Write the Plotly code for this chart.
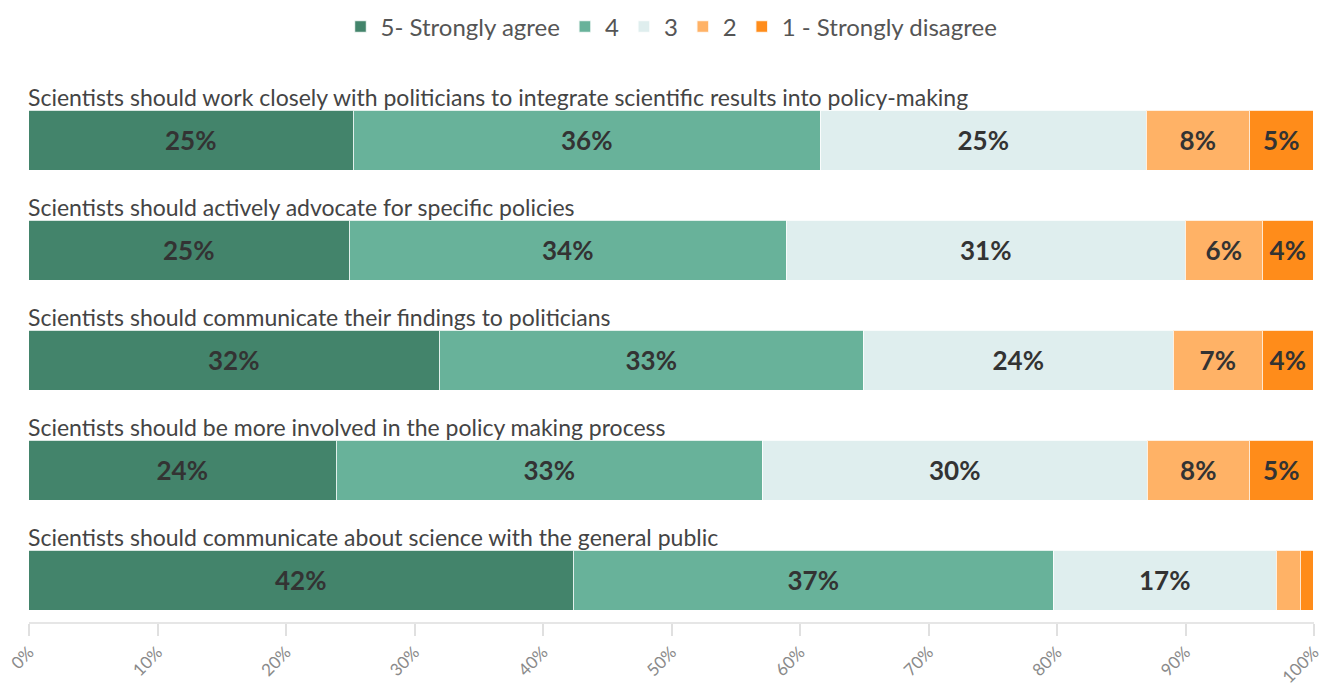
import plotly.graph_objects as go

statements = [
    "Scientists should work closely with politicians to integrate scientific results into policy-making",
    "Scientists should actively advocate for specific policies",
    "Scientists should communicate their findings to politicians",
    "Scientists should be more involved in the policy making process",
    "Scientists should communicate about science with the general public",
]
series_names = ["5- Strongly agree", "4", "3", "2", "1 - Strongly disagree"]
s5 = [25.3, 25.0, 32.0, 24.0, 42.4]
s4 = [36.3, 34.0, 33.0, 33.1, 37.4]
s3 = [25.4, 31.0, 24.1, 30.0, 17.3]
s2 = [8.0, 6.0, 6.9, 7.9, 1.9]
s1 = [5.0, 4.0, 4.0, 5.0, 1.0]
tick_vals = [0, 10, 20, 30, 40, 50, 60, 70, 80, 90, 100]
tick_text = [f"{v}%" for v in tick_vals]

colors = ["#43846b", "#68b29a", "#dfeeee", "#ffb266", "#ff8c1a"]
FONT = "Lato"
ypos = list(range(len(statements)))
BAR_W = 0.55

fig = go.Figure()
for name, vals, col in zip(series_names, [s5, s4, s3, s2, s1], colors):
    fig.add_trace(go.Bar(
        name=name, y=ypos, x=vals, orientation="h", width=BAR_W,
        marker=dict(color=col, line=dict(color="rgba(255,255,255,0.8)", width=1.5)),
        text=[f"{round(v)}%" if v >= 3 else "" for v in vals],
        textposition="inside", insidetextanchor="middle", textangle=0,
        textfont=dict(family=FONT, size=26, color="#333333", weight="bold"),
        constraintext="none",
        hoverinfo="x+name",
    ))

for i, s in enumerate(statements):
    fig.add_annotation(x=0, y=i - BAR_W / 2, xref="x", yref="y", text=s,
                       showarrow=False, xanchor="left", yanchor="bottom",
                       font=dict(family=FONT, size=23, color="#444444"), xshift=-3, yshift=-2)

fig.update_layout(
    barmode="stack", bargap=0,
    width=1327, height=683,
    margin=dict(l=29, r=13, t=75, b=61, autoexpand=False),
    paper_bgcolor="white", plot_bgcolor="white",
    font=dict(family=FONT, color="#555555"),
    legend=dict(orientation="h", x=0.5, xanchor="center", y=1.088, yanchor="middle",
                font=dict(family=FONT, size=24, color="#555555"), traceorder="normal",
                itemwidth=30),
    xaxis=dict(range=[0, 100], tickvals=tick_vals, ticktext=tick_text, tickangle=-45,
               automargin=False,
               showgrid=False, zeroline=False, showline=True, linecolor="#e6e6e6", linewidth=1.5,
               ticks="outside", ticklen=12, tickcolor="#e0e0e0", tickwidth=1.5,
               tickfont=dict(family=FONT, size=17, color="#8a8a8a")),
    yaxis=dict(range=[4.373, -0.6], showticklabels=False, showgrid=False, zeroline=False,
               showline=False, automargin=False),
)

fig.write_html("out.html", config={"displayModeBar": False},
               post_script="document.body.style.margin='0';document.body.style.overflow='hidden';")
